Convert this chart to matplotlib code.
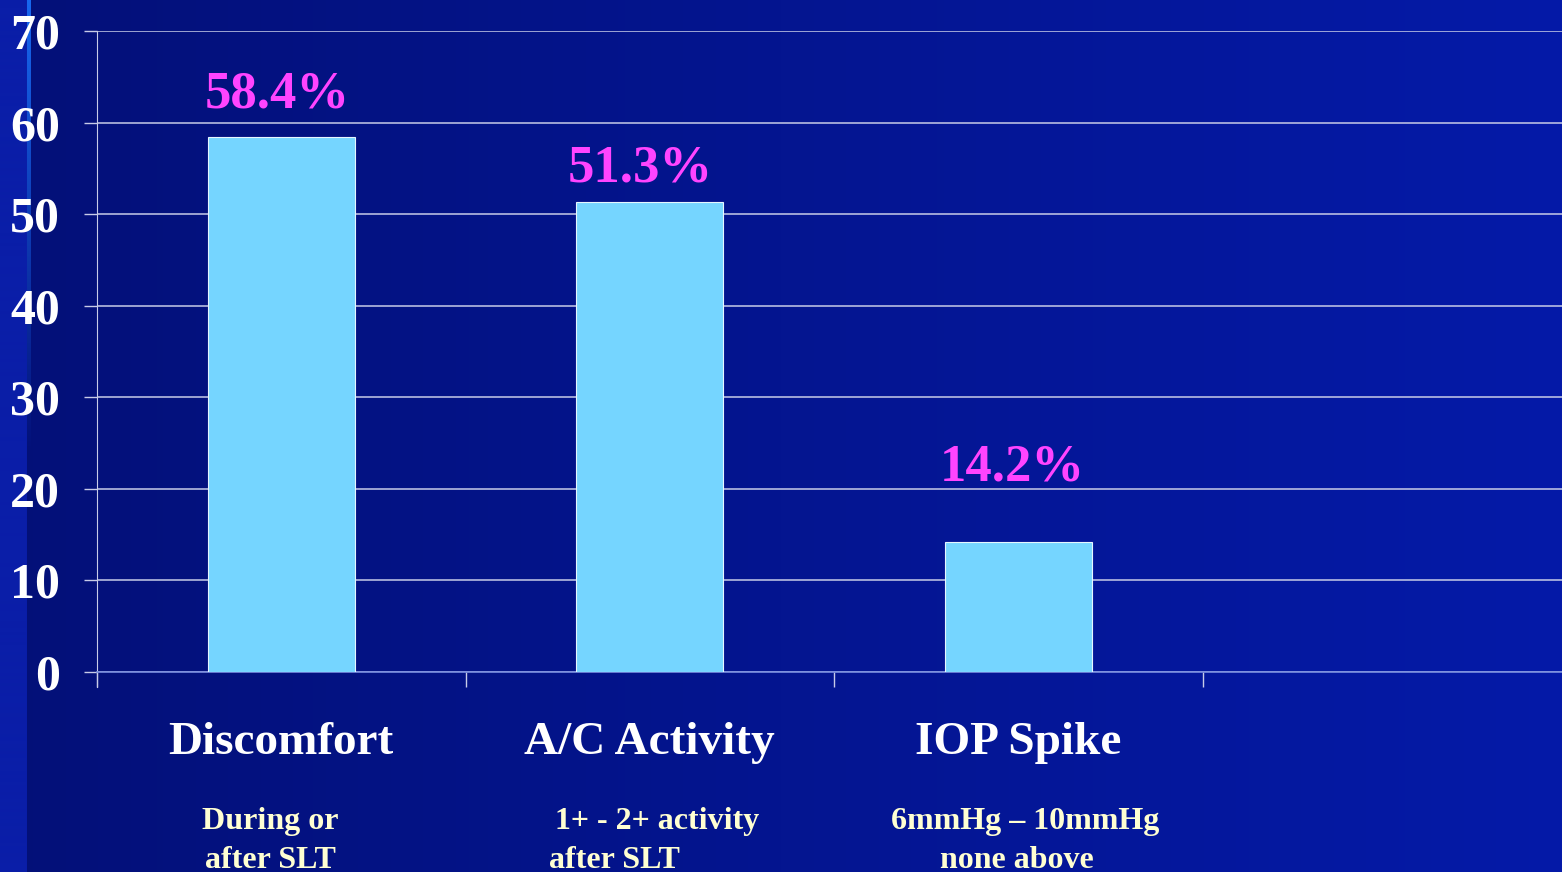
import numpy as np
import matplotlib
matplotlib.use('Agg')
import matplotlib.pyplot as plt

# data
categories = ['Discomfort', 'A/C Activity', 'IOP Spike', '']
values = [58.4, 51.3, 14.2]
value_labels = ['58.4%', '51.3%', '14.2%']
yticks = [0, 10, 20, 30, 40, 50, 60, 70]

# placement of hand-set labels on the slide (data coords)
label_pos = [(-0.01, 61.6), (0.975, 53.6), (1.985, 20.9)]
sub_lines = [
    [(-0.03, 'During or'), (-0.03, 'after SLT')],
    [(1.02, '1+ - 2+ activity'), (0.905, 'after SLT')],
    [(2.02, '6mmHg \u2013 10mmHg'), (1.995, 'none above')],
]

W, H = 1562, 872
fig = plt.figure(figsize=(W / 100, H / 100), dpi=100)

# slide background: dark navy gradient with a lighter strip on the left
xx = np.linspace(0, 1, W)
left = np.array([0x03, 0x10, 0x78]) / 255
right = np.array([0x05, 0x1A, 0xA8]) / 255
bg = np.empty((H, W, 3))
bg[:] = left + (right - left) * xx[None, :, None]
bg[:, :27] = np.array([0x0A, 0x1E, 0xA8]) / 255
fade = np.clip(1 - np.arange(H) / 450, 0, 1)[:, None]
line_col = np.array([0x18, 0x68, 0xF0]) / 255
bg[:, 27:31] = bg[:, 27:31] * (1 - fade[:, :, None]) + line_col * fade[:, :, None]
bga = fig.add_axes([0, 0, 1, 1])
bga.imshow(bg, aspect='auto')
bga.axis('off')

serif = ['Liberation Serif', 'DejaVu Serif']
grid_c = '#C8CCE8'

ax = fig.add_axes([97 / W, 1 - 672 / H, 4 * 368.5 / W, 641 / H])
ax.patch.set_alpha(0)
x = np.arange(len(values))
ax.bar(x, values, width=0.4, color='#75D5FF', edgecolor='#E6F6FF', linewidth=0.8, zorder=3)

ax.set_xlim(-0.5, 3.5)
ax.set_ylim(0, 70)
ax.set_yticks(yticks)
ax.set_yticklabels([str(t) for t in yticks], family=serif, fontweight='bold',
                   fontsize=36, color='white')
ax.tick_params(axis='y', length=9.5, width=1, color=grid_c, pad=17)
ax.yaxis.grid(True, color=grid_c, linewidth=1.1, zorder=1)

ax.set_xticks([-0.5, 0.5, 1.5, 2.5, 3.5])
ax.set_xticklabels([])
ax.tick_params(axis='x', which='major', length=11, width=1, color=grid_c, direction='out')
ax.set_xticks(np.arange(len(categories)), minor=True)
ax.set_xticklabels(categories, minor=True, family=serif, fontweight='bold',
                   fontsize=34, color='white')
ax.tick_params(axis='x', which='minor', length=0, pad=36)

for s in ['top', 'right']:
    ax.spines[s].set_visible(False)
ax.spines['left'].set_color(grid_c)
ax.spines['left'].set_linewidth(0.8)
ax.spines['left'].set_bounds(-1.6, 70)
ax.spines['left'].set_clip_on(False)
ax.spines['bottom'].set_color('#7A8FE0')
ax.spines['bottom'].set_linewidth(1.2)

for (lx, ly), txt in zip(label_pos, value_labels):
    ax.text(lx, ly, txt, ha='center', va='baseline', family=serif, fontweight='bold',
            fontsize=38, color='#FF44FF')

for lines in sub_lines:
    for i, (sx, txt) in enumerate(lines):
        ax.text(sx, -16.3 - i * 4.25, txt, ha='center', va='center', family=serif,
                fontweight='bold', fontsize=23, color='#FFFFD2', clip_on=False)

fig.savefig('out.png', dpi=100)
